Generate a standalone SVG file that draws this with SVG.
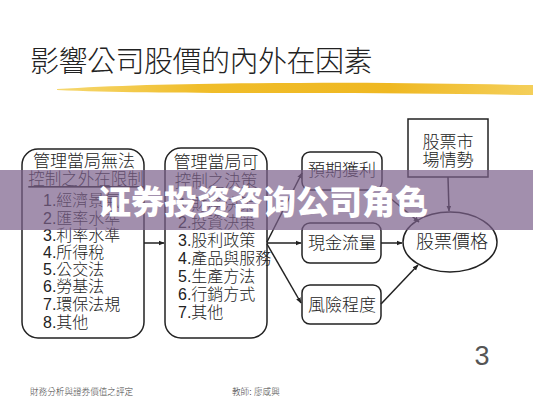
<svg xmlns="http://www.w3.org/2000/svg" width="533" height="400" viewBox="0 0 533 400">
<style>
.t{font-family:"Liberation Serif","Noto Sans CJK TC",serif;fill:#222;font-weight:300;}
.s{font-family:"Liberation Sans","Noto Sans CJK TC",sans-serif;fill:#222;font-weight:300;}
.box{fill:#fff;stroke:#222;stroke-width:1.5;}
.ln{stroke:#222;stroke-width:1.5;fill:none;marker-end:url(#ah);}
</style>
<defs>
<marker id="ah" viewBox="0 0 10 10" refX="9" refY="5" markerWidth="6" markerHeight="6" orient="auto" markerUnits="userSpaceOnUse">
<path d="M0,1 L10,5 L0,9 z" fill="#222"/>
</marker>
<linearGradient id="brush" x1="0" y1="0" x2="1" y2="0">
<stop offset="0" stop-color="#f6d870"/>
<stop offset="0.3" stop-color="#f0bd2a"/>
<stop offset="0.7" stop-color="#efb822"/>
<stop offset="1" stop-color="#f4cf5a"/>
</linearGradient>
</defs>
<rect width="533" height="400" fill="#fff"/>
<g id="title">
<text class="t" x="30" y="72" font-size="29" letter-spacing="-0.5">影響公司股價的內外在因素</text>
<path d="M57,89 C120,85 200,83 300,83 C380,82 460,84 533,85 L533,95 C460,94 380,93 300,93 C200,93 120,93 57,90 z" fill="url(#brush)"/>
</g>
<g id="left-box">
<rect class="box" x="22" y="149" width="122" height="189" rx="16"/>
<text class="t" x="84" y="167" font-size="17" text-anchor="middle">管理當局無法</text>
<text class="t" x="86" y="185" font-size="16.5" text-anchor="middle" text-decoration="underline">控制之外在限制</text>
<g class="s" font-size="16">
<text x="43" y="206">1.經濟景氣</text>
<text x="43" y="224">2.匯率水準</text>
<text x="43" y="241">3.利率水準</text>
<text x="43" y="258">4.所得稅</text>
<text x="43" y="275">5.公交法</text>
<text x="43" y="292">6.勞基法</text>
<text x="43" y="310">7.環保法規</text>
<text x="43" y="328">8.其他</text>
</g>
</g>
<g id="mid-box">
<rect class="box" x="165" y="148" width="102" height="190" rx="16"/>
<text class="t" x="216" y="168" font-size="17" text-anchor="middle">管理當局可</text>
<text class="t" x="216" y="187" font-size="16.5" text-anchor="middle">控制之決策</text>
<g class="s" font-size="16">
<text x="178" y="210">1.財務決策</text>
<text x="178" y="228">2.投資決策</text>
<text x="178" y="246">3.股利政策</text>
<text x="178" y="264">4.產品與服務</text>
<text x="178" y="282">5.生產方法</text>
<text x="178" y="300">6.行銷方式</text>
<text x="178" y="318">7.其他</text>
</g>
</g>
<g id="profit">
<rect class="box" x="302" y="152" width="80" height="38" rx="8"/>
<text class="t" x="342" y="176" font-size="17" text-anchor="middle">預期獲利</text>
</g>
<g id="cash">
<rect class="box" x="302" y="223" width="79" height="40" rx="8"/>
<text class="t" x="342" y="249" font-size="17" text-anchor="middle">現金流量</text>
</g>
<g id="risk">
<rect class="box" x="302" y="285" width="79" height="39" rx="8"/>
<text class="t" x="342" y="311" font-size="17" text-anchor="middle">風險程度</text>
</g>
<g id="market">
<rect class="box" x="408" y="119" width="80" height="58"/>
<text class="t" x="448" y="148" font-size="17" text-anchor="middle">股票市</text>
<text class="t" x="448" y="166" font-size="17" text-anchor="middle">場情勢</text>
</g>
<g id="price">
<ellipse class="box" cx="450" cy="242" rx="47" ry="30"/>
<text class="t" x="452" y="248" font-size="18" text-anchor="middle">股票價格</text>
</g>
<g id="connectors">
<line class="ln" x1="144" y1="243" x2="164" y2="243"/>
<line class="ln" x1="267" y1="242" x2="302" y2="173"/>
<line class="ln" x1="267" y1="243" x2="301" y2="243"/>
<line class="ln" x1="267" y1="244" x2="301" y2="303"/>
<line class="ln" x1="378" y1="188" x2="419" y2="222"/>
<line class="ln" x1="381" y1="243" x2="402" y2="243"/>
<line class="ln" x1="381" y1="304" x2="418" y2="265"/>
<line class="ln" x1="448" y1="177" x2="449" y2="211"/>
</g>
<g id="footer">
<text class="s" x="482" y="365" font-size="27" text-anchor="middle" style="fill:#555">3</text>
<text class="s" x="30" y="395" font-size="8.6" style="fill:#444">財務分析與證券價值之評定</text>
<text class="s" x="232" y="395" font-size="8.6" style="fill:#444">教師: 廖咸興</text>
</g>
<g id="banner">
<rect x="0" y="170" width="533" height="60" fill="#7a5f8a" fill-opacity="0.7"/>
<text x="263" y="214" font-size="33" font-weight="900" text-anchor="middle" fill="#fff" font-family="Noto Sans CJK SC, sans-serif">证券投资咨询公司角色</text>
</g>
</svg>
